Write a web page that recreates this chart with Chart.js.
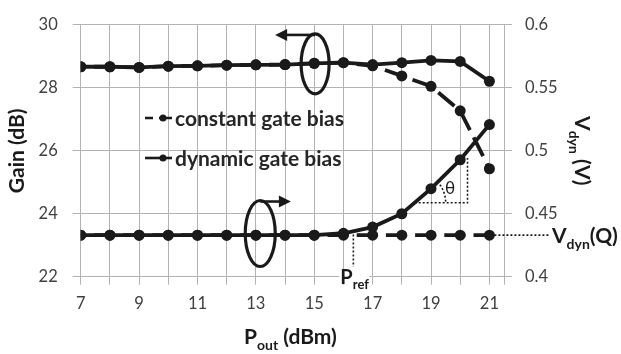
<!DOCTYPE html>
<html><head><meta charset="utf-8">
<script src="https://cdn.jsdelivr.net/npm/chart.js@4.4.0/dist/chart.umd.min.js"></script>
<style>html,body{margin:0;padding:0;background:#fff;overflow:hidden}#wrap{width:621px;height:354px}</style>
</head><body><div id="wrap"><canvas id="c" width="621" height="354"></canvas></div>
<script>
// ---- data ----
const pout = [7,8,9,10,11,12,13,14,15,16,17,18,19,20,21];
const gainDynamic  = [28.67,28.67,28.65,28.69,28.70,28.72,28.73,28.74,28.78,28.80,28.74,28.80,28.87,28.84,28.21];
const gainConstant = [28.67,28.67,28.65,28.69,28.70,28.72,28.73,28.74,28.78,28.80,28.70,28.38,28.05,27.27,25.43];
const vdynDynamic  = [0.433,0.433,0.433,0.433,0.433,0.433,0.433,0.433,0.433,0.4345,0.4394,0.450,0.4699,0.4929,0.5208];
const vdynConstant = [0.433,0.433,0.433,0.433,0.433,0.433,0.433,0.433,0.433,0.433,0.433,0.433,0.433,0.433,0.433];
const xTickLabels = [7,9,11,13,15,17,19,21];
const gainTicks = [22,24,26,28,30];
const vdynTicks = [0.4,0.45,0.5,0.55,0.6];
const legendLabels = ['constant gate bias','dynamic gate bias'];

const INK = '#1a1a1a', GRID = '#b3b3b3', TICK = '#404040';
const X_MAX = 21.5;
const pts = arr => pout.map((x,i)=>({x, y: arr[i]}));

function richText(ctx, parts, x, y, align){
  let w = 0;
  parts.forEach(p=>{ ctx.font = 'bold '+p[1]+'px Lato'; w += ctx.measureText(p[0]).width; });
  let cx = align==='center' ? x - w/2 : (align==='right' ? x - w : x);
  ctx.textAlign = 'left'; ctx.textBaseline = 'alphabetic';
  parts.forEach(p=>{ ctx.font = 'bold '+p[1]+'px Lato'; ctx.fillText(p[0], cx, y + (p[2]? p[1]*0.42 : 0)); cx += ctx.measureText(p[0]).width; });
  return w;
}

const annot = {
  id: 'annot',
  afterDatasetsDraw(chart){
    const {ctx, chartArea: ca, scales: {x, y, y1}} = chart;
    ctx.save();
    ctx.fillStyle = INK; ctx.strokeStyle = INK;

    // legend
    const lx0 = 145, lx1 = 172, ldot = 163;
    const rows = [118, 158];
    ctx.lineWidth = 2.6;
    ctx.beginPath(); ctx.moveTo(lx0, rows[0]); ctx.lineTo(lx0+8, rows[0]); ctx.moveTo(ldot-4, rows[0]); ctx.lineTo(lx1, rows[0]); ctx.stroke();
    ctx.beginPath(); ctx.arc(ldot, rows[0], 3.5, 0, Math.PI*2); ctx.fill();
    ctx.beginPath(); ctx.moveTo(lx0, rows[1]); ctx.lineTo(lx1, rows[1]); ctx.stroke();
    ctx.beginPath(); ctx.arc(ldot, rows[1], 3.5, 0, Math.PI*2); ctx.fill();
    ctx.fillStyle = '#262626';
    ctx.font = 'bold 21px Lato'; ctx.textAlign = 'left'; ctx.textBaseline = 'middle';
    ctx.fillText(legendLabels[0], 175, rows[0]+1);
    ctx.fillText(legendLabels[1], 175, rows[1]+1);
    ctx.fillStyle = INK;

    // ellipses + arrows
    function ell(cx, cy, rx, ry){ ctx.lineWidth = 3.2; ctx.beginPath(); ctx.ellipse(cx, cy, rx, ry, 0, 0, Math.PI*2); ctx.stroke(); }
    function arrow(x0, yy, x1){
      const dir = Math.sign(x1 - x0);
      ctx.lineWidth = 2.6; ctx.beginPath(); ctx.moveTo(x0, yy); ctx.lineTo(x1 - dir*10, yy); ctx.stroke();
      ctx.beginPath(); ctx.moveTo(x1, yy); ctx.lineTo(x1 - dir*12, yy-6); ctx.lineTo(x1 - dir*12, yy+6); ctx.closePath(); ctx.fill();
    }
    let ex = x.getPixelForValue(15.03), ey = y.getPixelForValue(28.76);
    ell(ex, ey, 14, 30); arrow(ex, ey-29, x.getPixelForValue(13.66));
    ex = x.getPixelForValue(13.15); ey = y1.getPixelForValue(0.4343);
    ell(ex, ey, 15, 33); arrow(ex, ey-32, x.getPixelForValue(14.2));

    // dotted guides
    ctx.lineWidth = 1.6; ctx.setLineDash([2, 2]);
    const px = x.getPixelForValue(16.34);
    ctx.beginPath(); ctx.moveTo(px, y1.getPixelForValue(0.4335)); ctx.lineTo(px, ca.bottom - 10); ctx.stroke();
    const hy = y1.getPixelForValue(0.4587);
    const hx0 = x.getPixelForValue(18.44), vx = x.getPixelForValue(20.25);
    ctx.beginPath(); ctx.moveTo(hx0, hy); ctx.lineTo(vx, hy); ctx.lineTo(vx, y1.getPixelForValue(0.4943)); ctx.stroke();
    ctx.beginPath(); ctx.arc(hx0, hy, 31, -0.62, -0.03); ctx.stroke();
    const qy = y1.getPixelForValue(0.433);
    ctx.beginPath(); ctx.moveTo(x.getPixelForValue(21)+5, qy); ctx.lineTo(ca.right + 46, qy); ctx.stroke();
    ctx.setLineDash([]);

    // theta
    ctx.font = '17px Lato'; ctx.textAlign = 'center'; ctx.textBaseline = 'middle';
    ctx.fillText('\u03B8', x.getPixelForValue(19.65), y1.getPixelForValue(0.4703));

    // Pref
    ctx.fillStyle = '#fff'; ctx.fillRect(px - 14, ca.bottom - 4, 30, 9);
    ctx.fillStyle = INK;
    richText(ctx, [['P', 20, false], ['ref', 13, true]], px - 13, ca.bottom + 7, 'left');

    // Vdyn(Q)
    richText(ctx, [['V', 21, false], ['dyn', 14, true], ['(Q)', 21, false]], ca.right + 48, qy + 8, 'left');

    // axis titles
    ctx.save(); ctx.translate(17, (ca.top+ca.bottom)/2); ctx.rotate(-Math.PI/2);
    ctx.font = 'bold 21px Lato'; ctx.textAlign = 'center'; ctx.textBaseline = 'middle';
    ctx.fillText('Gain (dB)', 0, 0); ctx.restore();

    ctx.save(); ctx.translate(582, (ca.top+ca.bottom)/2); ctx.rotate(Math.PI/2);
    richText(ctx, [['V', 21, false], ['dyn', 14, true], [' (V)', 21, false]], 0, 7, 'center'); ctx.restore();

    richText(ctx, [['P', 21, false], ['out', 14, true], [' (dBm)', 21, false]], (ca.left+ca.right)/2 - 2, 344, 'center');
    ctx.restore();
  }
};

const tickFont = {family: 'Lato', size: 16.5};
new Chart(document.getElementById('c'), {
  type: 'line',
  data: {
    datasets: [
      {label: legendLabels[1], data: pts(gainDynamic), yAxisID: 'y', order: 1},
      {label: legendLabels[1], data: pts(vdynDynamic), yAxisID: 'y1', order: 1},
      {label: legendLabels[0], data: pts(gainConstant), yAxisID: 'y', order: 2, borderDash: [21, 8.2], borderDashOffset: 16},
      {label: legendLabels[0], data: pts(vdynConstant), yAxisID: 'y1', order: 2, borderDash: [21, 8.2], borderDashOffset: 16}
    ].map(d => Object.assign({borderColor: INK, backgroundColor: INK, borderWidth: 3.8, pointRadius: 5.5, pointBorderWidth: 0, pointBackgroundColor: INK, tension: 0, fill: false}, d))
  },
  options: {
    responsive: false, animation: false, devicePixelRatio: 1,
    layout: {padding: {top: 18.7, left: 0, right: 0, bottom: 0}},
    plugins: {legend: {display: false}, tooltip: {enabled: false}},
    scales: {
      x: {type: 'linear', min: pout[0], max: X_MAX,
        afterFit: s => { s.height = 77.3; },
        afterBuildTicks: s => { s.ticks = pout.map(v => ({value: v})).concat([{value: X_MAX}]); },
        ticks: {autoSkip: false, maxRotation: 0, color: TICK, font: tickFont, padding: 9,
          callback: v => xTickLabels.includes(v) ? String(v) : ''},
        grid: {color: GRID, tickColor: GRID, tickLength: 8, lineWidth: 1},
        border: {color: GRID}},
      y: {position: 'left', min: gainTicks[0], max: gainTicks[gainTicks.length-1],
        afterFit: s => { s.width = 80.7; },
        afterBuildTicks: s => { s.ticks = gainTicks.map(v => ({value: v})); },
        ticks: {color: TICK, font: tickFont, padding: 15},
        grid: {color: GRID, tickColor: GRID, tickLength: 8, lineWidth: 1},
        border: {color: GRID}},
      y1: {position: 'right', min: vdynTicks[0], max: vdynTicks[vdynTicks.length-1],
        afterFit: s => { s.width = 117; },
        afterBuildTicks: s => { s.ticks = vdynTicks.map(v => ({value: v})); },
        ticks: {color: TICK, font: tickFont, padding: 13, callback: v => String(v)},
        grid: {drawOnChartArea: false, color: GRID, tickColor: GRID, tickLength: 8, lineWidth: 1},
        border: {color: GRID}}
    }
  },
  plugins: [annot]
});
</script></body></html>
